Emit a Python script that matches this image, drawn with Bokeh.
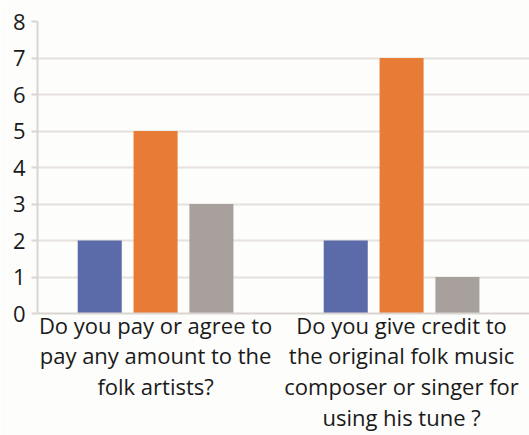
from bokeh.plotting import figure
from bokeh.models import ColumnDataSource, Range1d, FixedTicker
from bokeh.transform import dodge
from bokeh.embed import file_html
from bokeh.resources import INLINE
import numpy as np

categories = ["Do you pay or agree to\npay any amount to the\nfolk artists?",
              "Do you give credit to\nthe original folk music\ncomposer or singer for\nusing his tune ?"]
series_a = [2, 2]
series_b = [5, 7]
series_c = [3, 1]
y_ticks = [0, 1, 2, 3, 4, 5, 6, 7, 8]

xpos = list(np.arange(len(categories)) + 0.5)
src = ColumnDataSource(dict(x=xpos, a=series_a, b=series_b, c=series_c))

bg = "#FDFDFB"
p = figure(width=529, height=435, output_backend="svg", toolbar_location=None,
           x_range=Range1d(0.02, 2.02), y_range=Range1d(0, 8),
           min_border_left=37, min_border_right=0, min_border_top=21, min_border_bottom=121,
           background_fill_color=bg, border_fill_color=bg, outline_line_color=None)

w = 0.179
p.vbar(x=dodge("x", -0.227, range=p.x_range), top="a", width=w, bottom=0, source=src,
       fill_color="#5B6AA8", line_color=None)
p.vbar(x=dodge("x", 0.0, range=p.x_range), top="b", width=w, bottom=0, source=src,
       fill_color="#E87B35", line_color=None)
p.vbar(x=dodge("x", 0.227, range=p.x_range), top="c", width=w, bottom=0, source=src,
       fill_color="#A8A09D", line_color=None)

p.xgrid.visible = False
p.ygrid.grid_line_color = "#E6E1DE"
p.ygrid.grid_line_width = 2
p.yaxis.ticker = FixedTicker(ticks=y_ticks)
p.yaxis.minor_tick_line_color = None
p.yaxis.major_tick_in = 0
p.yaxis.major_tick_out = 6
p.yaxis.major_tick_line_color = "#DAD5D2"
p.yaxis.major_tick_line_width = 2
p.yaxis.axis_line_color = "#DAD5D2"
p.yaxis.axis_line_width = 2
p.yaxis.major_label_text_font = "Open Sans"
p.yaxis.major_label_text_font_size = "22px"
p.yaxis.major_label_text_color = "#1a1a1a"
p.yaxis.major_label_standoff = 6

p.xaxis.ticker = FixedTicker(ticks=xpos)
p.xaxis.major_label_overrides = {x: c for x, c in zip(xpos, categories)}
p.xaxis.major_tick_line_color = None
p.xaxis.minor_tick_line_color = None
p.xaxis.axis_line_color = "#DAD5D2"
p.xaxis.axis_line_width = 2
p.xaxis.major_label_text_font = "Open Sans"
p.xaxis.major_label_text_font_size = "22px"
p.xaxis.major_label_text_color = "#1a1a1a"
p.xaxis.major_label_text_line_height = 1.03
p.xaxis.major_label_standoff = -10

open("out.html", "w").write(file_html(p, INLINE))
